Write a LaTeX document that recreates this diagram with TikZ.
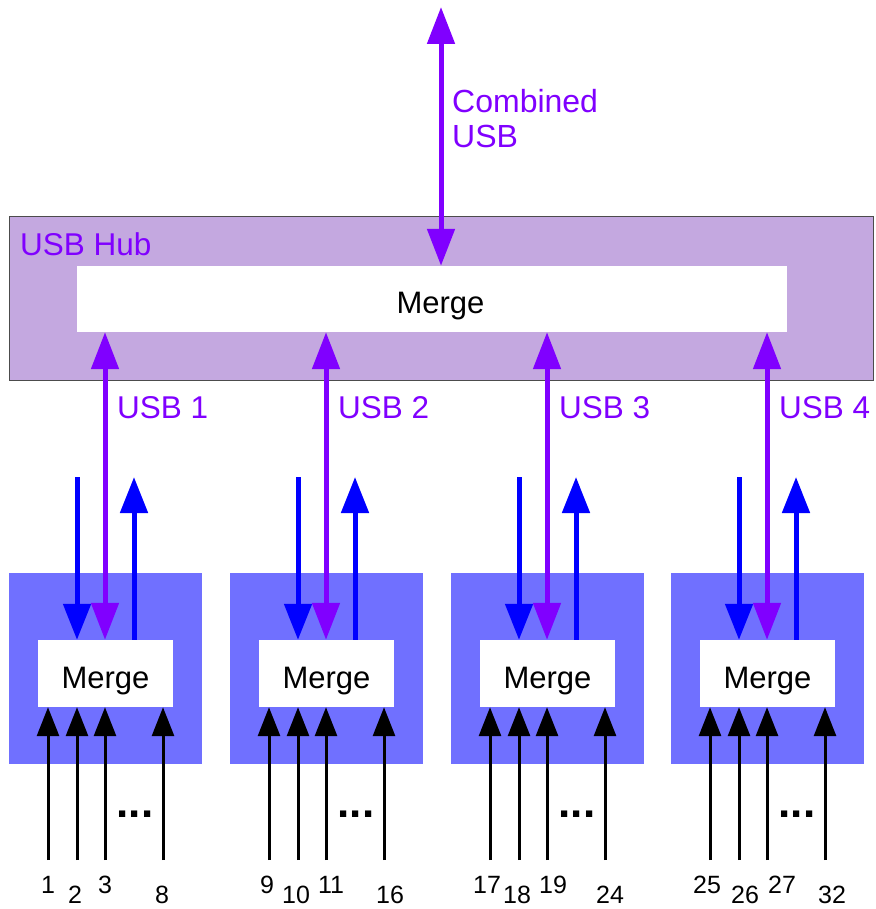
\documentclass[tikz,border=0pt]{standalone}
\usepackage{fontspec}
\setmainfont{Liberation Sans}
\usetikzlibrary{arrows.meta}
\definecolor{hubfill}{RGB}{196,168,224}
\definecolor{violetA}{RGB}{128,0,255}
\definecolor{boxblue}{RGB}{112,112,255}
\definecolor{arrblue}{RGB}{0,0,255}
\begin{document}
\begin{tikzpicture}[x=1pt,y=-1pt,
  hubbox/.style={fill=hubfill, draw=black!70, line width=1pt, minimum width=864pt, minimum height=163pt, inner sep=0pt},
  bigmerge/.style={fill=white, minimum width=710pt, minimum height=66pt, inner sep=0pt, text height=38pt, text depth=10pt, font=\fontsize{31}{35}\selectfont},
  bluebox/.style={fill=boxblue, minimum width=193pt, minimum height=191pt, inner sep=0pt},
  mergebox/.style={fill=white, minimum width=135pt, minimum height=67pt, inner sep=0pt, text height=39pt, text depth=10pt, font=\fontsize{31}{35}\selectfont},
  usbarrow/.style={violetA, line width=5pt, {Triangle[length=37pt,width=27pt]}-{Triangle[length=37pt,width=27pt]}},
  bluearrow/.style={arrblue, line width=5pt, -{Triangle[length=36pt,width=27pt]}},
  inarrow/.style={black, line width=3pt, -{Triangle[length=29pt,width=22pt]}},
  vlabel/.style={text=violetA, font=\fontsize{31.5}{35}\selectfont, inner sep=0pt},
  numlabel/.style={font=\fontsize{25}{28}\selectfont, inner sep=0pt, anchor=base},
  dotslabel/.style={font=\fontsize{44}{48}\selectfont\bfseries, inner sep=0pt}
]
\useasboundingbox (0,0) rectangle (875,909);

% USB hub
\node[hubbox] (hub) at (441,298.5) {};
\node[bigmerge] (hm) at (432,299) {\hspace*{17pt}Merge};
\node[vlabel, anchor=base west] (hublabel) at (20,255) {USB Hub};

% combined USB
\coordinate (top) at (441,7);
\draw[usbarrow] (top) -- (hm.north -| top);
\node[vlabel, anchor=north west, align=left, font=\fontsize{32}{35}\selectfont] (comb) at (452,89) {Combined\\USB};

% groups
\foreach \g/\dx/\la/\lb/\lc/\ld/\xa/\xb/\xc/\xd in
  {1/0/1/2/3/8/48/75/105/162,
   2/221/9/10/11/16/267/296/331/390,
   3/442/17/18/19/24/487/517/553/610,
   4/662/25/26/27/32/707/745/782/832}{
  \node[bluebox] (b\g) at (105.5+\dx,668.5) {};
  \node[mergebox] (m\g) at (105.5+\dx,673.5) {Merge};
  % USB link to hub
  \coordinate (u\g) at (105+\dx,0);
  \draw[usbarrow] (m\g.north -| u\g) -- (hm.south -| u\g);
  \node[vlabel, anchor=base west] (ul\g) at (117+\dx,418) {USB \g};
  % blue in / out
  \coordinate (bd\g) at (77+\dx,477);
  \coordinate (bu\g) at (134+\dx,477);
  \draw[bluearrow] (bd\g) -- (m\g.north -| bd\g);
  \draw[bluearrow] (m\g.north -| bu\g) -- (bu\g);
  % inputs
  \coordinate (ia\g) at (48+\dx,860);
  \coordinate (ib\g) at (77+\dx,860);
  \coordinate (ic\g) at (105+\dx,860);
  \coordinate (id\g) at (163+\dx,860);
  \foreach \s in {a,b,c,d}{
    \draw[inarrow] (i\s\g) -- (m\g.south -| i\s\g);
  }
  \node[dotslabel] (dots\g) at (135+\dx,814) {...};
  \node[numlabel] (na\g) at (\xa,893) {\la};
  \node[numlabel] (nb\g) at (\xb,903) {\lb};
  \node[numlabel] (nc\g) at (\xc,893) {\lc};
  \node[numlabel] (nd\g) at (\xd,903) {\ld};
}
\end{tikzpicture}
\end{document}
